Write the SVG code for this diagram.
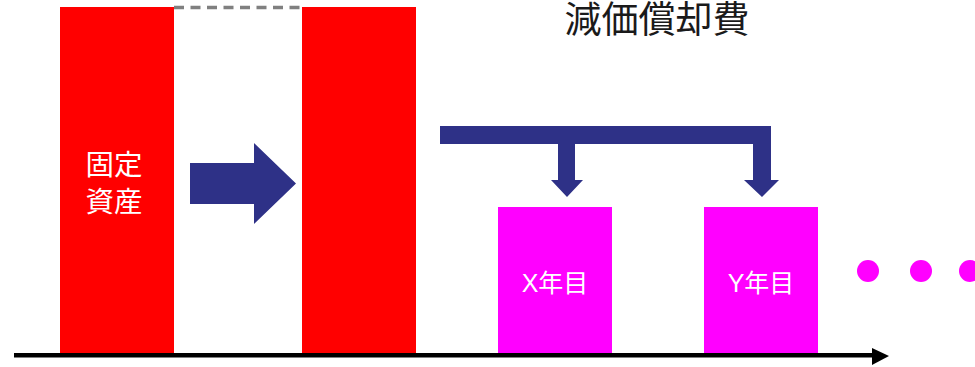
<svg xmlns="http://www.w3.org/2000/svg" width="975" height="367" viewBox="0 0 975 367">
<defs>
<style>
.red{fill:#ff0000}
.mag{fill:#ff00ff}
.navy{fill:#2e3187}
.lbl{font-family:"Liberation Sans","Noto Sans CJK JP",sans-serif;fill:#ffffff;text-anchor:middle}
.title{font-family:"Liberation Sans","Noto Sans CJK JP",sans-serif;fill:#1a1a1a;text-anchor:middle;font-size:37px}
</style>
</defs>
<rect width="975" height="367" fill="#ffffff"/>
<g id="connectors">
<line x1="174" y1="7.5" x2="302" y2="7.5" stroke="#808080" stroke-width="3.5" stroke-dasharray="10,6.5"/>
<path id="arrow-transfer" class="navy" d="M190,163 L254,163 L254,143 L296,183.5 L254,224 L254,204 L190,204 Z"/>
<path id="arrow-depreciation" class="navy" d="M440,126 L771,126 L771,180 L779,180 L762,197 L744,180 L753,180 L753,144 L575,144 L575,180 L583,180 L567,197 L551,180 L558,180 L558,144 L440,144 Z"/>
<g id="time-axis">
<rect x="14" y="353" width="859" height="4.5" fill="#000"/>
<path d="M872,348 L889,356 L872,365 Z" fill="#000"/>
</g>
</g>
<g id="title">
<text class="title" x="657" y="33">減価償却費</text>
</g>
<g id="fixed-asset">
<rect class="red" x="60" y="7" width="114" height="346"/>
<text class="lbl" x="114" y="175" font-size="28.5">固定</text>
<text class="lbl" x="114" y="212" font-size="28.5">資産</text>
</g>
<g id="asset-after">
<rect class="red" x="302" y="7" width="114" height="346"/>
</g>
<g id="year-x">
<rect class="mag" x="498" y="207" width="114" height="146"/>
<text class="lbl" x="555" y="292" font-size="25">X年目</text>
</g>
<g id="year-y">
<rect class="mag" x="704" y="207" width="114" height="146"/>
<text class="lbl" x="761" y="292" font-size="25">Y年目</text>
</g>
<g id="ellipsis">
<circle class="mag" cx="868" cy="271" r="11"/>
<circle class="mag" cx="921" cy="271" r="11"/>
<circle class="mag" cx="970" cy="271" r="11"/>
</g>
</svg>
